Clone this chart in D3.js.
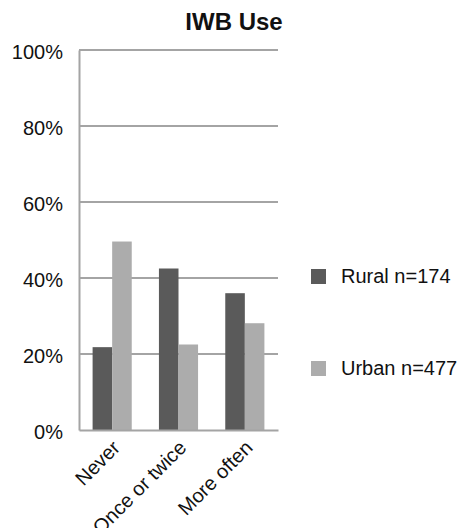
<!DOCTYPE html>
<html>
<head>
<meta charset="utf-8">
<script src="https://cdn.jsdelivr.net/npm/d3@7"></script>
<style>
  html, body { margin: 0; padding: 0; background: #fff; }
  svg { display: block; font-family: "Liberation Sans", Arial, sans-serif; }
</style>
</head>
<body>
<svg id="chart" width="466" height="528"></svg>
<script>
// Share of teachers by frequency of interactive whiteboard use
const categories = ["Never", "Once or twice", "More often"];
const seriesNames = ["Rural n=174", "Urban n=477"];
const rural = [21.8, 42.5, 36.0];
const urban = [49.6, 22.5, 28.1];
const yTicks = [0, 20, 40, 60, 80, 100];
const colors = ["#5a5a5a", "#acacac"];

const svg = d3.select("#chart");
const plotLeft = 79, plotRight = 278, plotTop = 50, plotBottom = 430;

const x = d3.scaleBand().domain(categories).range([plotLeft, plotRight]).padding(0);
const bw = x.bandwidth();
const xs = d3.scaleBand().domain([0, 1]).range([bw * 0.205, bw * 0.795]).padding(0);
const y = d3.scaleLinear().domain([0, 100]).range([plotBottom, plotTop]);

// Title
svg.append("text")
  .attr("x", 234).attr("y", 30)
  .attr("text-anchor", "middle")
  .attr("font-size", 24).attr("font-weight", "bold")
  .attr("fill", "#111")
  .text("IWB Use");

// Gridlines
svg.append("g").selectAll("line")
  .data(yTicks.filter(d => d > 0))
  .join("line")
  .attr("x1", plotLeft).attr("x2", plotRight)
  .attr("y1", d => y(d)).attr("y2", d => y(d))
  .attr("stroke", "#a4a4a4").attr("stroke-width", 2);

// Y axis
const yAxis = d3.axisLeft(y).tickValues(yTicks).tickSize(0).tickPadding(16)
  .tickFormat(d => d + "%");
const gy = svg.append("g").attr("transform", `translate(${plotLeft},0)`).call(yAxis);
gy.select(".domain").attr("stroke", "#a4a4a4").attr("stroke-width", 2);
gy.selectAll("text")
  .attr("font-size", 20).attr("fill", "#111")
  .attr("font-family", "Liberation Sans, Arial, sans-serif")
  .attr("dy", "0.42em");

// Bars
const data = [rural, urban];
categories.forEach((c, i) => {
  data.forEach((s, j) => {
    svg.append("rect")
      .attr("x", x(c) + xs(j))
      .attr("width", xs.bandwidth())
      .attr("y", y(s[i]))
      .attr("height", y(0) - y(s[i]))
      .attr("fill", colors[j]);
  });
});

// X axis with slanted category labels
const xAxis = d3.axisBottom(x).tickSize(0).tickPadding(0);
const gx = svg.append("g").attr("transform", `translate(0,${plotBottom})`).call(xAxis);
gx.select(".domain").attr("stroke", "#a4a4a4").attr("stroke-width", 2);
gx.selectAll("text")
  .attr("font-size", 20).attr("fill", "#111")
  .attr("font-family", "Liberation Sans, Arial, sans-serif")
  .attr("text-anchor", "end")
  .attr("dy", 0)
  .attr("y", 0)
  .attr("transform", "translate(9,19) rotate(-45)");

// Legend
const legend = svg.append("g");
const legendY = [269, 361];
seriesNames.forEach((name, j) => {
  legend.append("rect")
    .attr("x", 311).attr("y", legendY[j])
    .attr("width", 15).attr("height", 15)
    .attr("fill", colors[j]);
  legend.append("text")
    .attr("x", 341).attr("y", legendY[j] + 14)
    .attr("font-size", 20).attr("fill", "#111")
    .text(name);
});
</script>
</body>
</html>
